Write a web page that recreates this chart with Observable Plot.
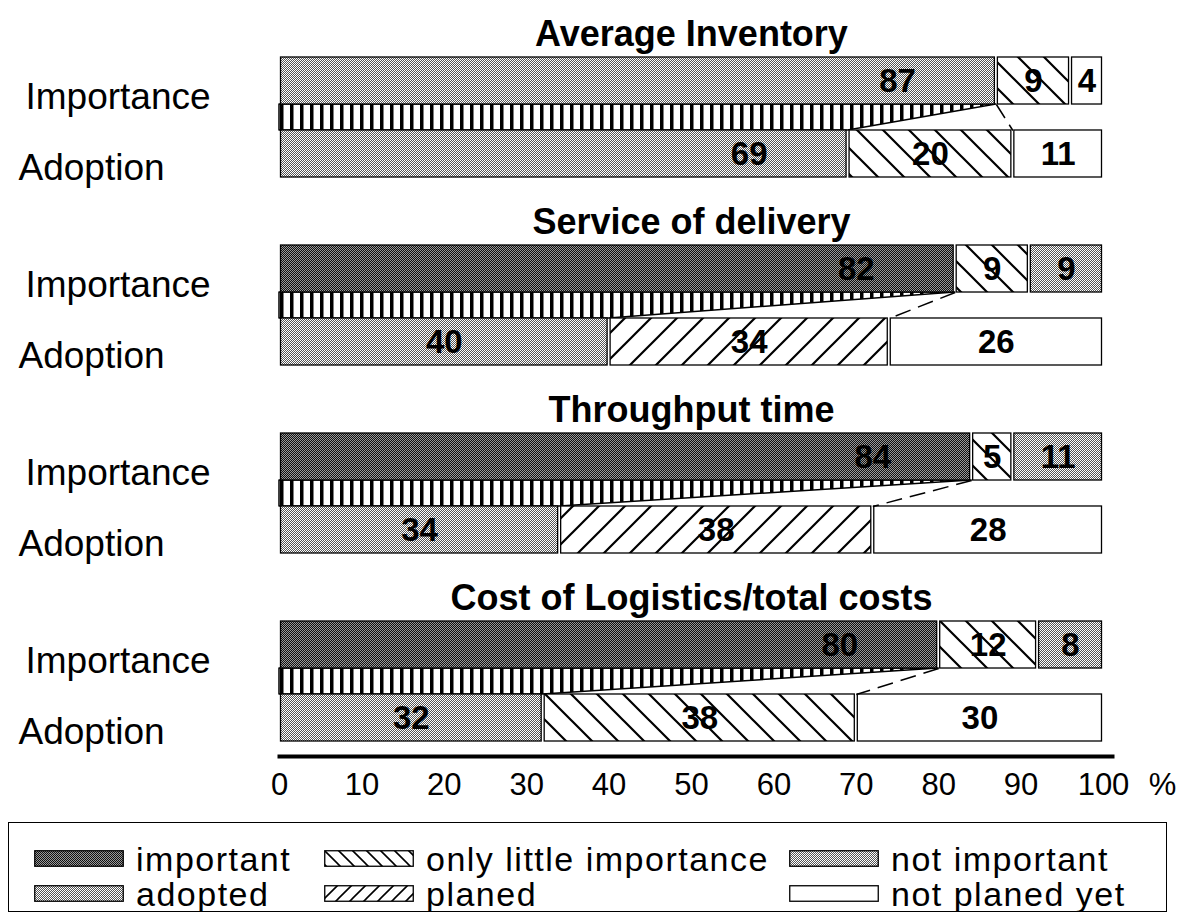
<!DOCTYPE html>
<html>
<head>
<meta charset="utf-8">
<script src="https://cdn.jsdelivr.net/npm/d3@7"></script>
<script src="https://cdn.jsdelivr.net/npm/@observablehq/plot@0.6"></script>
<style>
  body { margin: 0; background: #fff; font-family: "Liberation Sans", Arial, Helvetica, sans-serif; }
  #chart svg { display: block; }
  .legend {
    margin: 10px 0 0 8px; width: 1159px; height: 90px; box-sizing: border-box;
    border: 1.5px solid #000; padding: 18px 0 0 25px;
    display: grid; grid-template-columns: 290px 465px auto; grid-auto-rows: 35px;
  }
  .legend .item { display: flex; align-items: center; gap: 12px; font-size: 34px; letter-spacing: 1.5px; line-height: 34px; white-space: nowrap; color: #000; }
  .legend svg { flex: none; }
</style>
</head>
<body>
<svg width="0" height="0" style="position:absolute">
  <defs>
    <pattern id="pDark" width="2" height="2" patternUnits="userSpaceOnUse">
      <rect width="2" height="2" fill="#999"/>
      <rect width="1" height="1" fill="#111"/>
      <rect x="1" y="1" width="1" height="1" fill="#111"/>
    </pattern>
    <pattern id="pLight" width="2" height="2" patternUnits="userSpaceOnUse">
      <rect width="2" height="2" fill="#fff"/>
      <rect width="1" height="1" fill="#555"/>
      <rect x="1" y="1" width="1" height="1" fill="#555"/>
    </pattern>
    <pattern id="pStripe" width="10" height="10" patternUnits="userSpaceOnUse">
      <rect width="10" height="10" fill="#fff"/>
      <rect width="3.5" height="10" fill="#000"/>
    </pattern>
    <pattern id="pBack" width="26" height="26" patternUnits="userSpaceOnUse">
      <rect width="26" height="26" fill="#fff"/>
      <path d="M0,0L26,26M-3,23L3,29M23,-3L29,3" stroke="#000" stroke-width="2.2"/>
    </pattern>
    <pattern id="pFwd" width="26" height="26" patternUnits="userSpaceOnUse">
      <rect width="26" height="26" fill="#fff"/>
      <path d="M0,26L26,0M-3,3L3,-3M23,29L29,23" stroke="#000" stroke-width="2.2"/>
    </pattern>
    <pattern id="pBackS" width="14" height="14" patternUnits="userSpaceOnUse">
      <rect width="14" height="14" fill="#fff"/>
      <path d="M0,0L14,14M-2,12L2,16M12,-2L16,2" stroke="#000" stroke-width="1.6"/>
    </pattern>
    <pattern id="pFwdS" width="14" height="14" patternUnits="userSpaceOnUse">
      <rect width="14" height="14" fill="#fff"/>
      <path d="M0,14L14,0M-2,2L2,-2M12,16L16,12" stroke="#000" stroke-width="1.6"/>
    </pattern>
  </defs>
</svg>
<div id="chart"></div>
<script>
// ---------- data ----------
const panels = ["Average Inventory", "Service of delivery", "Throughput time", "Cost of Logistics/total costs"];
const rowNames = ["Importance", "Adoption"];
const importance = [[87, 9, 4], [82, 9, 9], [84, 5, 11], [80, 12, 8]];
const adoption = [[69, 20, 11], [40, 34, 26], [34, 38, 28], [32, 38, 30]];
// category each segment is drawn with in the original figure
const importanceDrawnAs = [
  ["adopted", "only little importance", "not planed yet"],
  ["important", "only little importance", "not important"],
  ["important", "only little importance", "not important"],
  ["important", "only little importance", "not important"]
];
const adoptionDrawnAs = [
  ["adopted", "only little importance", "not planed yet"],
  ["adopted", "planed", "not planed yet"],
  ["adopted", "planed", "not planed yet"],
  ["adopted", "only little importance", "not planed yet"]
];
const legendCategories = ["important", "only little importance", "not important", "adopted", "planed", "not planed yet"];
const xTicks = [0, 10, 20, 30, 40, 50, 60, 70, 80, 90, 100];

// ---------- styles ----------
const FONT = "'Liberation Sans', Arial, Helvetica, sans-serif";
const patternOf = {
  "important": "url(#pDark)", "only little importance": "url(#pBack)", "not important": "url(#pLight)",
  "adopted": "url(#pLight)", "planed": "url(#pFwd)", "not planed yet": "#ffffff"
};
const legendPatternOf = {...patternOf, "only little importance": "url(#pBackS)", "planed": "url(#pFwdS)"};
const HALF = 0.322; // half bar thickness, in row units

// ---------- tables ----------
const segments = [];
panels.forEach((panel, p) => {
  [importance[p], adoption[p]].forEach((vals, row) => {
    const drawn = row === 0 ? importanceDrawnAs[p] : adoptionDrawnAs[p];
    let acc = 0;
    vals.forEach((v, k) => {
      segments.push({panel, row, k, value: v, x1: acc, x2: acc + v, cat: drawn[k]});
      acc += v;
    });
  });
});
const band = panels.flatMap((panel, p) => [
  {panel, y: HALF, x: importance[p][0]},
  {panel, y: 1 - HALF, x: adoption[p][0]}
]);
const links = panels.map((panel, p) => ({panel, x1: importance[p][0], x2: adoption[p][0] + adoption[p][1]}));
const rowLabels = panels.flatMap(panel => rowNames.map((name, row) => ({panel, row, name})));

const chart = Plot.plot({
  width: 1183, height: 812,
  marginLeft: 279, marginRight: 80, marginTop: 56, marginBottom: 70,
  style: {fontFamily: FONT, background: "white", overflow: "visible", color: "black"},
  x: {domain: [0, 100], axis: null},
  y: {domain: [-HALF, 1 + HALF], reverse: true, axis: null},
  fy: {domain: panels, paddingInner: 0.364, paddingOuter: 0, axis: null, label: null},
  color: {type: "ordinal", domain: legendCategories, range: legendCategories.map(c => patternOf[c])},
  marks: [
    Plot.areaX(band, {fy: "panel", y: "y", x1: 0, x2: "x", fill: "url(#pStripe)", stroke: "black", strokeWidth: 1.5}),
    Plot.rectX(segments, {
      fy: "panel", x1: "x1", x2: "x2",
      y1: d => d.row - HALF, y2: d => d.row + HALF,
      fill: "cat", stroke: "black", strokeWidth: 1.3, insetLeft: 1.5, insetRight: 1.5
    }),
    Plot.link(links, {fy: "panel", x1: "x1", x2: "x2", y1: () => HALF, y2: () => 1 - HALF,
      stroke: "black", strokeWidth: 1.5, strokeDasharray: "16,8"}),
    Plot.text(segments, {
      fy: "panel", y: "row",
      x: d => (d.k === 0 && d.value > 50) ? d.x2 - 12 : (d.x1 + d.x2) / 2,
      text: d => String(d.value), fontSize: 33, fontWeight: "bold", fill: "black"
    }),
    Plot.text(panels, {fy: d => d, x: () => 50, frameAnchor: "top", lineAnchor: "bottom", dy: -12,
      text: d => d, fontSize: 36, fontWeight: "bold", fill: "black"}),
    Plot.text(rowLabels.filter(d => d.row === 0), {fy: "panel", y: "row", frameAnchor: "left", textAnchor: "start",
      dx: -254, dy: 16, text: "name", fontSize: 37, fill: "black"}),
    Plot.text(rowLabels.filter(d => d.row === 1), {fy: "panel", y: "row", frameAnchor: "left", textAnchor: "start",
      dx: -261, dy: 14, text: "name", fontSize: 37, fill: "black"}),
    Plot.frame({anchor: "bottom", stroke: "black", strokeWidth: 4, dy: 15, insetRight: -9, facetAnchor: "bottom"}),
    Plot.text(xTicks, {x: d => d, frameAnchor: "bottom", lineAnchor: "top", dy: 31,
      text: d => String(d), fontSize: 31, fill: "black", facetAnchor: "bottom"}),
    Plot.text(["%"], {x: () => 100, frameAnchor: "bottom", lineAnchor: "top", dy: 31, dx: 59,
      text: d => d, fontSize: 31, fill: "black", facetAnchor: "bottom"})
  ]
});
document.getElementById("chart").appendChild(chart);

// ---------- legend ----------
const legend = document.createElement("div");
legend.className = "legend";
legendCategories.forEach(c => {
  const item = document.createElement("div");
  item.className = "item";
  item.innerHTML = `<svg width="90" height="17"><rect x="0.75" y="0.75" width="88.5" height="15.5" fill="${legendPatternOf[c]}" stroke="#000" stroke-width="1.3"/></svg><span>${c}</span>`;
  legend.appendChild(item);
});
document.body.appendChild(legend);
</script>
</body>
</html>
